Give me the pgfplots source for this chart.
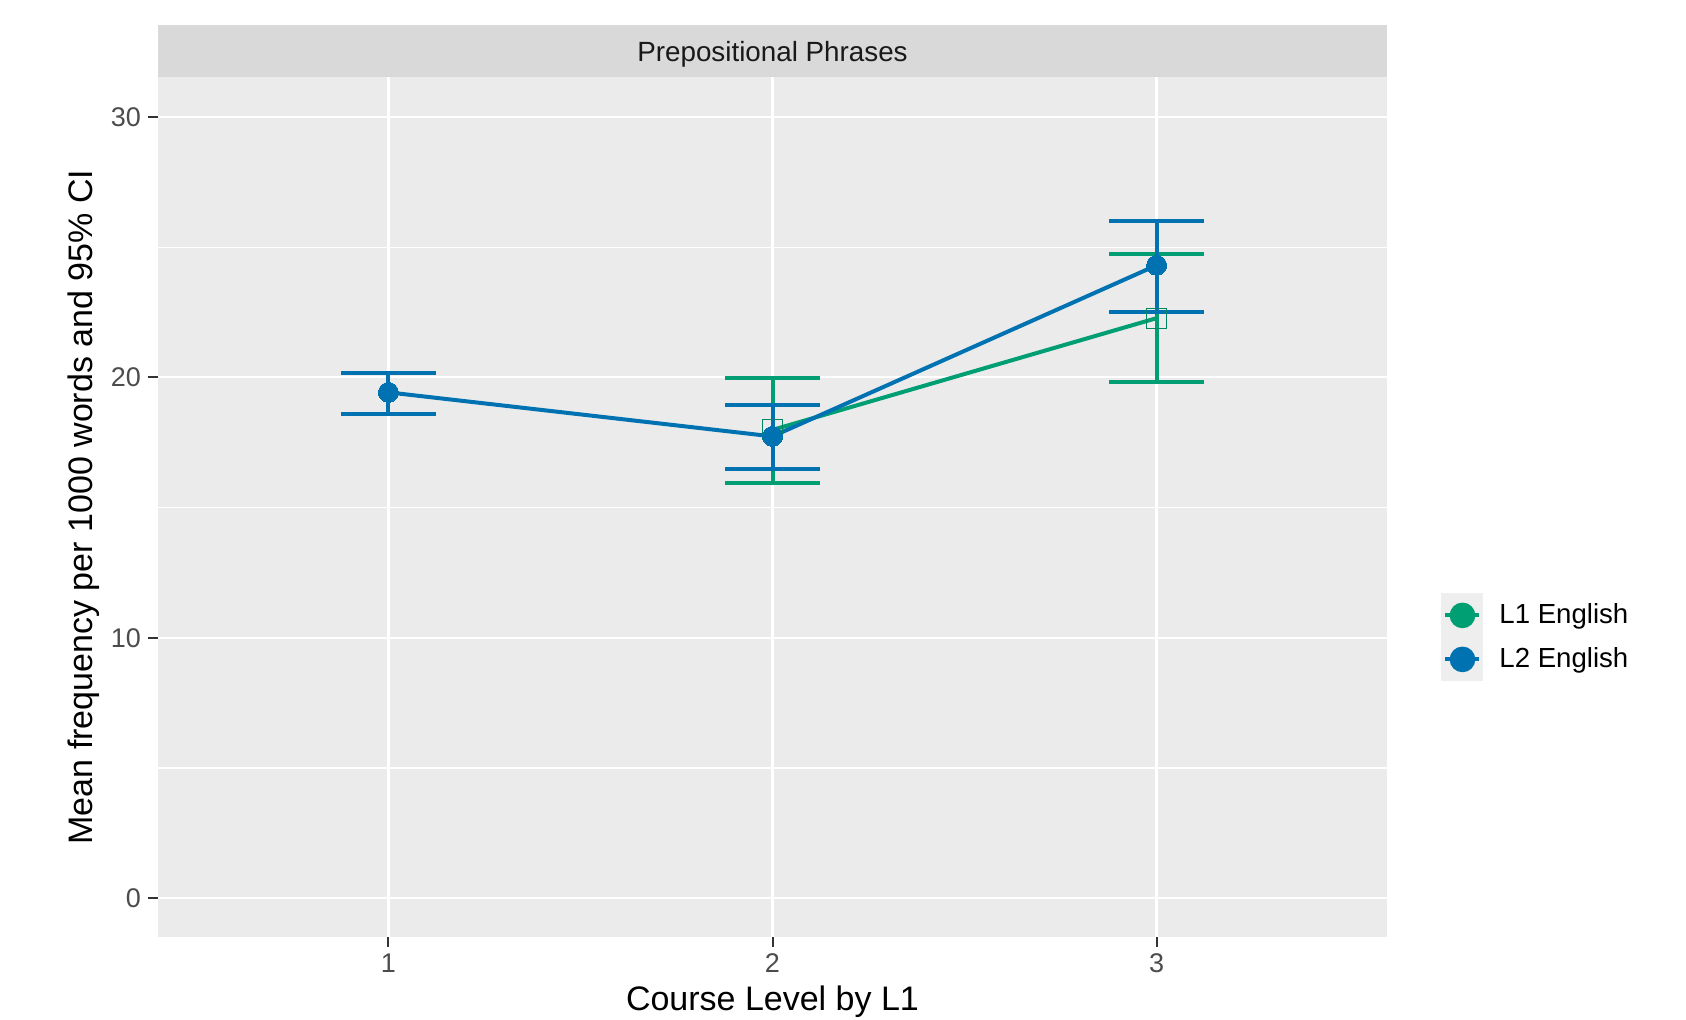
\documentclass[border=0pt]{standalone}
\usepackage{pgfplots}
\pgfplotsset{compat=1.18}
\usepackage{fontspec}
\setmainfont{Liberation Sans}
\definecolor{lone}{HTML}{009E73}
\definecolor{ltwo}{HTML}{0072B2}
\definecolor{panelbg}{HTML}{EBEBEB}
\definecolor{keybg}{HTML}{EEEEEE}
\definecolor{stripbg}{HTML}{D9D9D9}
\begin{document}
\begin{tikzpicture}
\path[use as bounding box] (-79pt,-41.5pt) rectangle (764pt,468.5pt);
\begin{axis}[
 scale only axis, width=614.5pt, height=430pt,
 at={(0,0)}, anchor=south west,
 xmin=0.4, xmax=3.6, ymin=-1.49, ymax=31.53,
 axis background/.style={fill=panelbg},
 axis line style={draw=none},
 xtick={1,2,3}, ytick={0,10,20,30}, minor ytick={5,15,25},
 grid=both,
 major grid style={white, line width=1.1pt},
 minor grid style={white, line width=0.55pt},
 tick align=outside, tick pos=left, major tick length=5pt, minor tick length=0pt,
 tick style={black!80, line width=1pt},
 ticklabel style={font=\fontsize{13.5}{16}\selectfont, text=black!70},
 /pgf/number format/assume math mode=true,
 xlabel={Course Level by L1},
 ylabel={Mean frequency per 1000 words and 95\% CI},
 label style={font=\fontsize{17}{20}\selectfont},
 xlabel style={at={(axis description cs:0.5,0)}, anchor=center, yshift=-32.5pt},
 ylabel style={at={(axis description cs:0,0.5)}, anchor=center, yshift=37pt},
 legend style={at={(axis description cs:1.044,0.40)}, anchor=north west,
   draw=none, fill=none, inner sep=0pt, row sep=0pt, column sep=8pt,
   nodes={inner sep=0pt},
   font=\fontsize{13.8}{16}\selectfont},
 legend cell align=left,
]
\addplot[lone, line width=2pt, mark=square, mark size=5pt,
  mark options={line width=0.6pt, draw=lone!85!black, fill=none},
  legend image code/.code={
    \fill[keybg] (0pt,-10pt) rectangle (19pt,10pt);
    \draw[lone, line width=2pt] (1pt,0pt) -- (18pt,0pt);
    \fill[lone] (9.5pt,0pt) circle (5.4pt);},
  error bars/.cd, y dir=both, y explicit,
  error bar style={line width=2pt, lone},
  error mark options={rotate=90, line width=2pt, mark size=23.7pt, lone},
  ] coordinates {
  (2,17.98) += (0,1.98) -= (0,2.03)
  (3,22.27) += (0,2.48) -= (0,2.44)
};
\addlegendentry{L1 English}
\addplot[ltwo, line width=2pt, mark=*, mark size=5pt,
  mark options={line width=0pt, fill=ltwo, draw=ltwo},
  legend image code/.code={
    \fill[keybg] (0pt,-10pt) rectangle (19pt,10pt);
    \draw[ltwo, line width=2pt] (1pt,0pt) -- (18pt,0pt);
    \fill[ltwo] (9.5pt,0pt) circle (5.4pt);},
  error bars/.cd, y dir=both, y explicit,
  error bar style={line width=2pt, ltwo},
  error mark options={rotate=90, line width=2pt, mark size=23.7pt, ltwo},
  ] coordinates {
  (1,19.42) += (0,0.75) -= (0,0.82)
  (2,17.73) += (0,1.20) -= (0,1.24)
  (3,24.30) += (0,1.69) -= (0,1.78)
};
\addlegendentry{L2 English}
\end{axis}
\fill[stripbg] (0,430pt) rectangle (614.5pt,456pt);
\node[font=\fontsize{13.9}{16}\selectfont, text=black!90] at (307.25pt,441.5pt) {Prepositional Phrases};
\end{tikzpicture}
\end{document}
